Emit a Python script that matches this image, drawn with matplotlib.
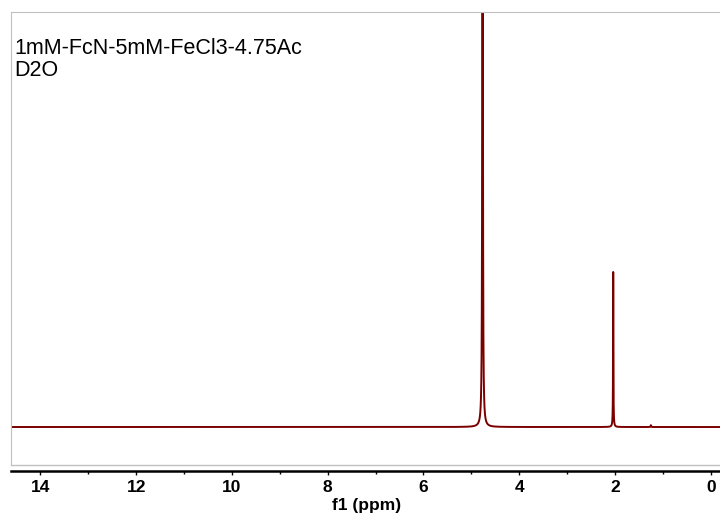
import numpy as np
import matplotlib.pyplot as plt

# 1H NMR peaks: shift (ppm), height (rel. to acetate CH3), half-width (ppm)
peak_ppm = [4.765, 2.036, 1.25]
peak_height = [6.0, 1.0, 0.012]
peak_hwhm = [0.006, 0.004, 0.006]

ticks = [14, 12, 10, 8, 6, 4, 2, 0]
minor_ticks = [13, 11, 9, 7, 5, 3, 1]

ppm = np.linspace(14.7, -0.3, 60001)
spec = np.zeros_like(ppm)
for p, h, w in zip(peak_ppm, peak_height, peak_hwhm):
    spec += h * w**2 / ((ppm - p)**2 + w**2)

fig = plt.figure(figsize=(7.2, 5.15), dpi=100)
ax = fig.add_axes([11/720, (515-465)/515, 712/720, (465-12)/515])
ax.plot(ppm, spec, color='#7a0000', lw=1.4)
ax.set_xlim(14.614, -0.257)
ax.set_ylim(-0.245, 2.677)

for s in ['left', 'top']:
    ax.spines[s].set_color('#c0c0c0')
ax.spines['right'].set_visible(False)
ax.spines['bottom'].set_color('black')
ax.spines['bottom'].set_linewidth(1.8)
ax.spines['bottom'].set_position(('outward', 4))
ax.axhline(-0.245, color='#c0c0c0', lw=1, clip_on=False)
ax.set_yticks([])
ax.set_xticks(ticks)
ax.set_xticks(minor_ticks, minor=True)
ax.tick_params(axis='x', which='major', length=3, width=1, pad=4)
ax.tick_params(axis='x', which='minor', length=2, width=1)
ax.set_xticklabels([str(t) for t in ticks], fontsize=12.5, fontweight='bold',
                   family='Liberation Sans')
ax.set_xlabel('f1 (ppm)', fontsize=12.5, fontweight='bold', labelpad=2,
              family='Liberation Sans')

ax.text(0.005, 0.942, '1mM-FcN-5mM-FeCl3-4.75Ac\nD2O',
        transform=ax.transAxes, fontsize=15.5, va='top', ha='left',
        family='Liberation Sans', linespacing=1.07)

fig.savefig('out.png', dpi=100)
